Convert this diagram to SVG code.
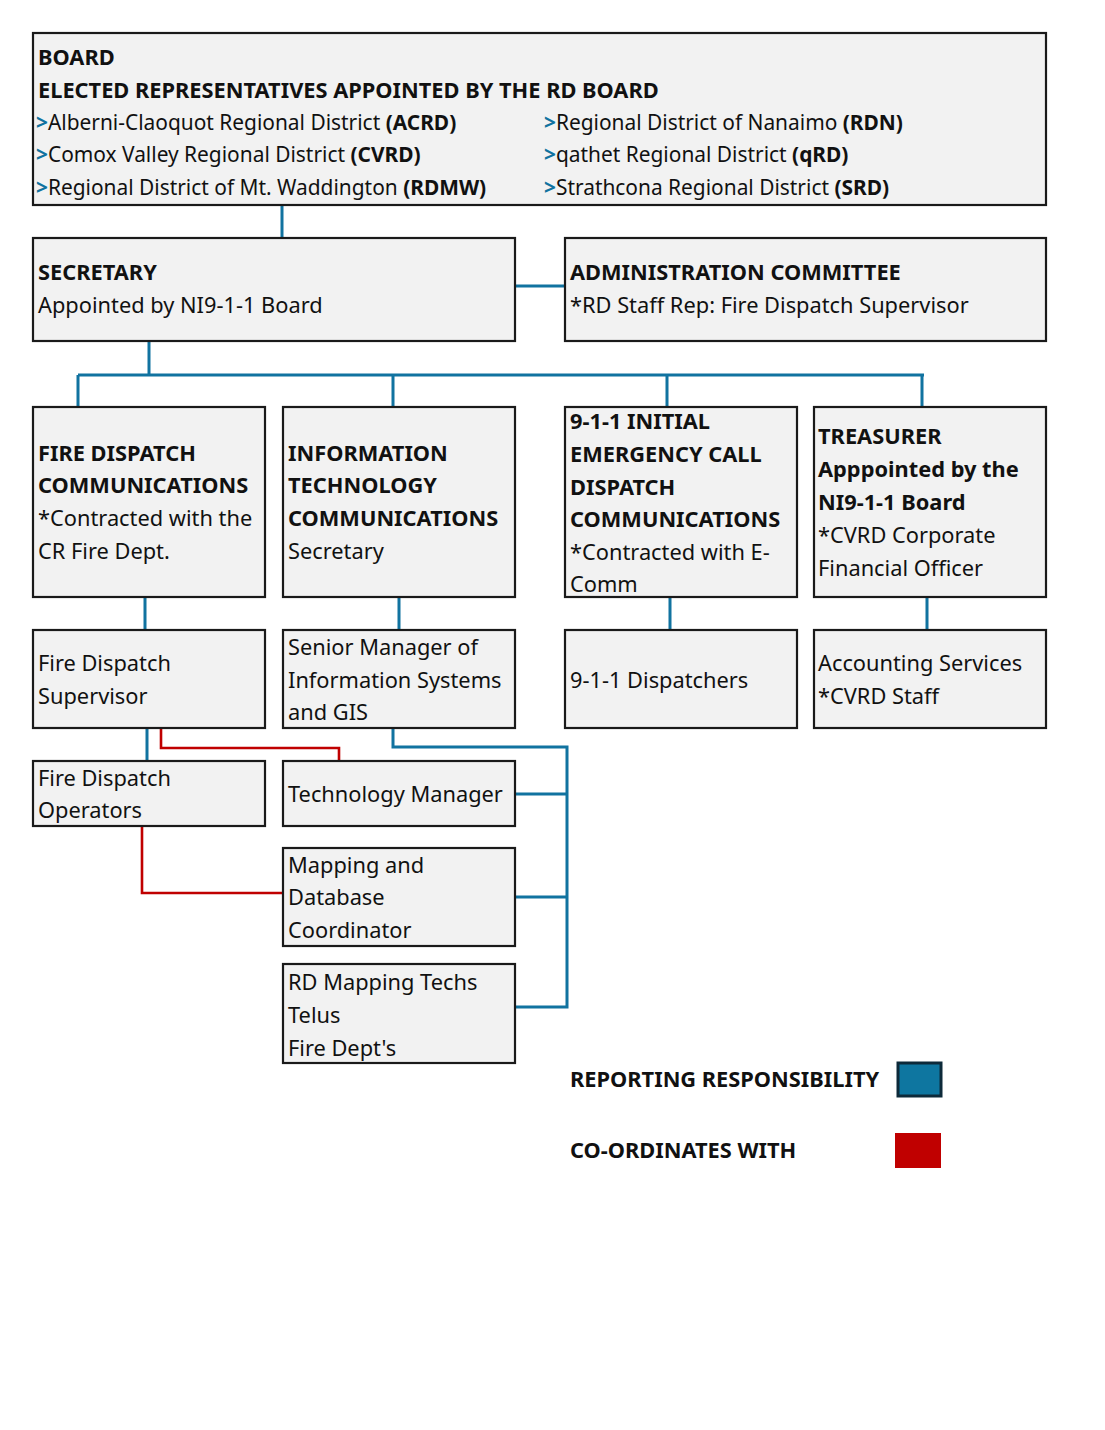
<svg xmlns="http://www.w3.org/2000/svg" width="1105" height="1430" viewBox="0 0 1105 1430">
<style>
.box{fill:#f2f2f2;stroke:#1a1a1a;stroke-width:2.2}
text{font-family:"Noto Sans","Open Sans","DejaVu Sans",sans-serif;font-size:21.8px;fill:#111}
.m{font-size:20.9px}
.b{font-weight:bold}
.ar{fill:#1173a0;font-weight:bold}
.rep{fill:none;stroke:#1173a0;stroke-width:3}
.co{fill:none;stroke:#c00000;stroke-width:2.6}
</style>
<rect width="1105" height="1430" fill="#fff"/>
<g id="connectors">
<path class="rep" d="M282 205V238"/>
<path class="rep" d="M515 286H565"/>
<path class="rep" d="M149 341V375"/>
<path class="rep" d="M78 375H924"/>
<path class="rep" d="M78 375V407M393 375V407M667 375V407M922 375V407"/>
<path class="rep" d="M145 597V630M399 597V630M670 597V630M927 597V630"/>
<path class="rep" d="M147 728V761"/>
<path class="rep" d="M393 728V747H567V1007H515M515 794H567M513 897H567"/>
<path class="co" d="M161 728V748H339V761"/>
<path class="co" d="M142 826V893H283"/>
</g>
<g id="board">
<rect class="box" x="33" y="33" width="1013" height="172"/>
<text x="38" y="65" class="b">BOARD</text>
<text x="38" y="98" class="b">ELECTED REPRESENTATIVES APPOINTED BY THE RD BOARD</text>
<text x="36" y="130" class="m"><tspan class="ar">&gt;</tspan>Alberni-Claoquot Regional District <tspan class="b">(ACRD)</tspan></text>
<text x="36" y="162" class="m"><tspan class="ar">&gt;</tspan>Comox Valley Regional District <tspan class="b">(CVRD)</tspan></text>
<text x="36" y="195" class="m"><tspan class="ar">&gt;</tspan>Regional District of Mt. Waddington <tspan class="b">(RDMW)</tspan></text>
<text x="544" y="130" class="m"><tspan class="ar">&gt;</tspan>Regional District of Nanaimo <tspan class="b">(RDN)</tspan></text>
<text x="544" y="162" class="m"><tspan class="ar">&gt;</tspan>qathet Regional District <tspan class="b">(qRD)</tspan></text>
<text x="544" y="195" class="m"><tspan class="ar">&gt;</tspan>Strathcona Regional District <tspan class="b">(SRD)</tspan></text>
</g>
<g id="secretary">
<rect class="box" x="33" y="238" width="482" height="103"/>
<text x="38" y="280" class="b">SECRETARY</text>
<text x="38" y="313">Appointed by NI9-1-1 Board</text>
</g>
<g id="admin">
<rect class="box" x="565" y="238" width="481" height="103"/>
<text x="570" y="280" class="b">ADMINISTRATION COMMITTEE</text>
<text x="570" y="313">*RD Staff Rep: Fire Dispatch Supervisor</text>
</g>
<g id="fire">
<rect class="box" x="33" y="407" width="232" height="190"/>
<text x="38" y="461" class="b">FIRE DISPATCH</text>
<text x="38" y="493" class="b">COMMUNICATIONS</text>
<text x="38" y="526">*Contracted with the</text>
<text x="38" y="559">CR Fire Dept.</text>
</g>
<g id="it">
<rect class="box" x="283" y="407" width="232" height="190"/>
<text x="288" y="461" class="b">INFORMATION</text>
<text x="288" y="493" class="b">TECHNOLOGY</text>
<text x="288" y="526" class="b">COMMUNICATIONS</text>
<text x="288" y="559">Secretary</text>
</g>
<g id="e911">
<rect class="box" x="565" y="407" width="232" height="190"/>
<text x="570" y="429" class="b">9-1-1 INITIAL</text>
<text x="570" y="462" class="b">EMERGENCY CALL</text>
<text x="570" y="495" class="b">DISPATCH</text>
<text x="570" y="527" class="b">COMMUNICATIONS</text>
<text x="570" y="560">*Contracted with E-</text>
<text x="570" y="592">Comm</text>
</g>
<g id="treasurer">
<rect class="box" x="814" y="407" width="232" height="190"/>
<text x="818" y="444" class="b">TREASURER</text>
<text x="818" y="477" class="b">Apppointed by the</text>
<text x="818" y="510" class="b">NI9-1-1 Board</text>
<text x="818" y="543">*CVRD Corporate</text>
<text x="818" y="576">Financial Officer</text>
</g>
<g id="supervisor">
<rect class="box" x="33" y="630" width="232" height="98"/>
<text x="38" y="671">Fire Dispatch</text>
<text x="38" y="704">Supervisor</text>
</g>
<g id="seniormgr">
<rect class="box" x="283" y="630" width="232" height="98"/>
<text x="288" y="655">Senior Manager of</text>
<text x="288" y="688">Information Systems</text>
<text x="288" y="720">and GIS</text>
</g>
<g id="dispatchers">
<rect class="box" x="565" y="630" width="232" height="98"/>
<text x="570" y="688">9-1-1 Dispatchers</text>
</g>
<g id="accounting">
<rect class="box" x="814" y="630" width="232" height="98"/>
<text x="818" y="671">Accounting Services</text>
<text x="818" y="704">*CVRD Staff</text>
</g>
<g id="operators">
<rect class="box" x="33" y="761" width="232" height="65"/>
<text x="38" y="786">Fire Dispatch</text>
<text x="38" y="818">Operators</text>
</g>
<g id="techmgr">
<rect class="box" x="283" y="761" width="232" height="65"/>
<text x="288" y="802">Technology Manager</text>
</g>
<g id="mapping">
<rect class="box" x="283" y="848" width="232" height="98"/>
<text x="288" y="873">Mapping and</text>
<text x="288" y="905">Database</text>
<text x="288" y="938">Coordinator</text>
</g>
<g id="rdmapping">
<rect class="box" x="283" y="964" width="232" height="99"/>
<text x="288" y="990">RD Mapping Techs</text>
<text x="288" y="1023">Telus</text>
<text x="288" y="1056">Fire Dept's</text>
</g>
<g id="legend">
<text x="570" y="1087" class="b">REPORTING RESPONSIBILITY</text>
<rect x="898" y="1063" width="43" height="33" fill="#0e76a0" stroke="#0d2a3a" stroke-width="3"/>
<text x="570" y="1158" class="b">CO-ORDINATES WITH</text>
<rect x="895" y="1133" width="46" height="35" fill="#c00000"/>
</g>
</svg>
